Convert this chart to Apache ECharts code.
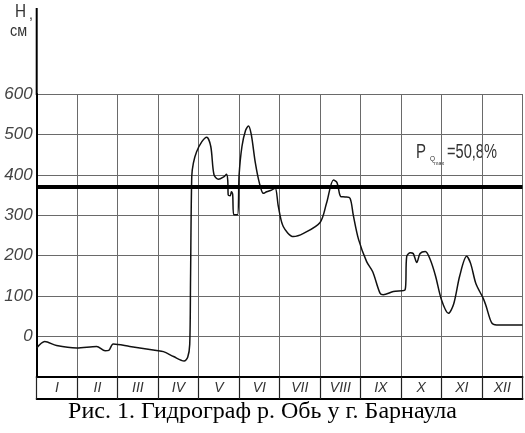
<!DOCTYPE html>
<html><head><meta charset="utf-8">
<script src="https://cdn.jsdelivr.net/npm/echarts@6/dist/echarts.min.js"></script>
<style>html,body{margin:0;padding:0;background:#fff}#c{width:525px;height:433px}</style>
</head><body><div id="c"></div>
<script>
// Months (roman numerals) for the bottom band
const months = ['I','II','III','IV','V','VI','VII','VIII','IX','X','XI','XII'];
// Y tick values
const yTicks = [0,100,200,300,400,500,600];
// Hydrograph: time in months from 1 Jan, water level H (cm)
const tMonth = [0,0.2,0.49,0.99,1.48,1.69,1.78,1.89,2.3,2.96,3.13,3.38,3.64,3.73,3.78,3.8,3.83,3.87,3.95,4.08,4.2,4.3,4.38,4.49,4.62,4.69,4.72,4.73,4.78,4.81,4.84,4.87,4.96,5.0,5.07,5.16,5.23,5.3,5.4,5.5,5.6,5.68,5.8,5.89,5.97,6.09,6.34,6.59,7.0,7.16,7.33,7.42,7.51,7.62,7.74,7.82,7.95,8.15,8.3,8.48,8.56,8.81,9.1,9.14,9.23,9.3,9.39,9.47,9.6,9.72,9.85,10.0,10.17,10.3,10.45,10.62,10.72,10.85,11.03,11.1,11.24,11.36,12];
const hLevel = [-29,-13,-23,-29,-25,-36,-35,-19,-25,-35,-38,-50,-61,-52,-20,140,396,429,457,482,493,470,400,389,395,401,385,350,348,358,352,301,301,400,470,510,521,500,430,380,354,358,362,367,321,272,247,255,282,330,387,380,346,345,342,300,240,185,160,107,103,111,115,198,207,205,183,205,210,190,150,90,57,80,150,198,180,130,94,75,33,28,28];
// Discharge-probability threshold line
const thresholdLevel = 370;
const annotation = '=50,8%';

const chart = echarts.init(document.getElementById('c'), null, {renderer:'canvas'});
const series = tMonth.map((t,i)=>[t,hLevel[i]]);
const thinFont = '"Liberation Sans","DejaVu Sans",sans-serif';
chart.setOption({
  animation:false,
  backgroundColor:'#fff',
  grid:{left:36.7,right:2.5,top:94,bottom:56.3,containLabel:false},
  xAxis:[
    {type:'value',min:0,max:12,position:'bottom',offset:22.3,
     axisLine:{show:true,onZero:false,lineStyle:{color:'#000',width:2}},
     axisTick:{show:false},axisLabel:{show:false},splitLine:{show:false}},
    {type:'category',data:months,position:'bottom',boundaryGap:true,
     axisLine:{show:true,onZero:false,lineStyle:{color:'#000',width:2}},
     axisTick:{show:true,length:22.3,lineStyle:{color:'#222',width:1.2}},
     axisLabel:{show:true,margin:4,fontFamily:thinFont,fontStyle:'italic',fontSize:14,color:'#333'},
     splitLine:{show:true,lineStyle:{color:'#6a6a6a',width:1}}}
  ],
  yAxis:{type:'value',min:-100,max:600,interval:100,
    axisLine:{show:true,onZero:false,lineStyle:{color:'#000',width:2}},
    axisTick:{show:false},
    axisLabel:{margin:4,fontFamily:thinFont,fontStyle:'italic',fontSize:17,color:'#444',
      formatter:v=>yTicks.includes(v)?String(v):''},
    splitLine:{show:true,lineStyle:{color:'#6a6a6a',width:1}}},
  graphic:[
    {type:'line',shape:{x1:36.7,y1:8,x2:36.7,y2:95},style:{stroke:'#000',lineWidth:2}},
    {type:'text',x:15,y:3,scaleX:0.85,style:{text:'H',font:'18px '+thinFont,fill:'#333'}},
    {type:'text',x:29,y:8,style:{text:',',font:'14px '+thinFont,fill:'#333'}},
    {type:'text',x:10,y:24,scaleX:0.9,style:{text:'см',font:'16px '+thinFont,fill:'#333'}},
    {type:'text',x:416,y:142,scaleX:0.75,style:{text:'P',font:'20px '+thinFont,fill:'#333'}},
    {type:'text',x:430,y:155,scaleX:0.8,style:{text:'Q',font:'8px '+thinFont,fill:'#333'}},
    {type:'text',x:434,y:160,scaleX:0.9,style:{text:'max',font:'6px '+thinFont,fill:'#333'}},
    {type:'text',x:447,y:142,scaleX:0.73,style:{text:annotation,font:'20px '+thinFont,fill:'#333'}},
    {type:'text',left:'center',top:400,style:{text:'Рис. 1. Гидрограф р. Обь у г. Барнаула',font:'24px "Liberation Serif","Times New Roman",serif',fill:'#000'}}
  ],
  series:[{
    type:'line',xAxisIndex:0,data:series,smooth:0.3,showSymbol:false,
    lineStyle:{color:'#111',width:1.5},
    markLine:{silent:true,symbol:['none','none'],label:{show:false},
      lineStyle:{color:'#000',width:4,type:'solid'},data:[{yAxis:thresholdLevel}]}
  }]
});
</script></body></html>
